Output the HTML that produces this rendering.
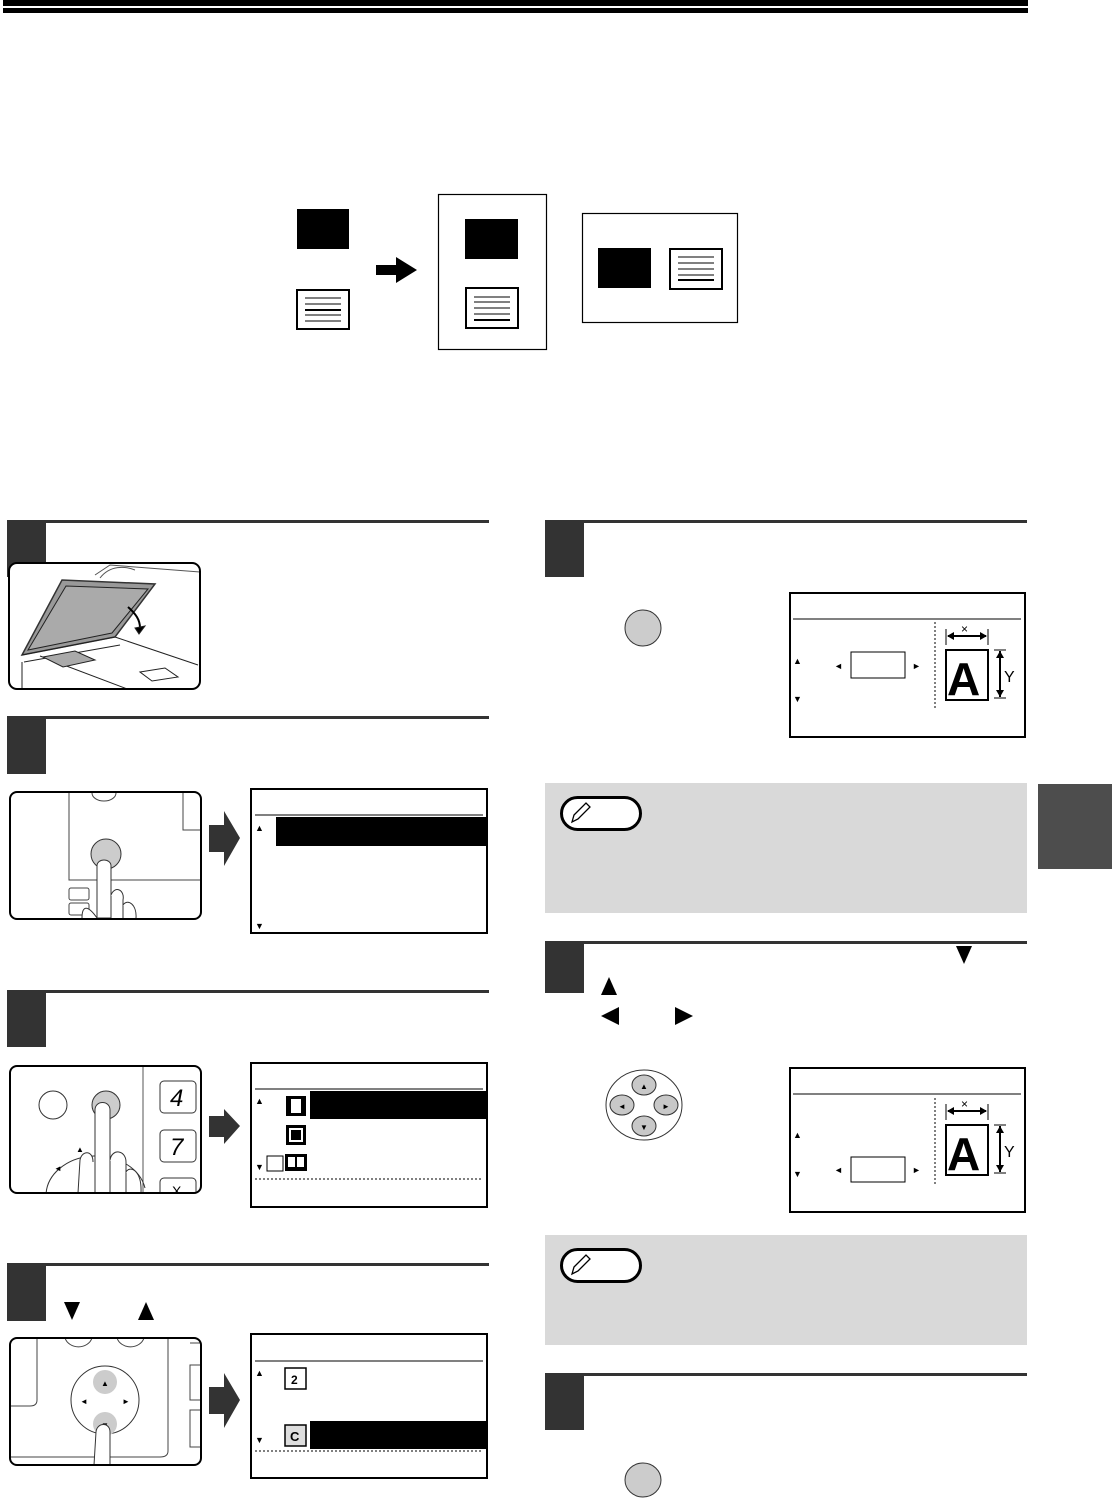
<!DOCTYPE html>
<html><head><meta charset="utf-8">
<style>
html,body{margin:0;padding:0;background:#fff;}
body{width:1112px;height:1499px;position:relative;overflow:hidden;font-family:"Liberation Sans",sans-serif;}
svg{position:absolute;left:0;top:0;}
</style></head><body>
<svg width="1112" height="1499" viewBox="0 0 1112 1499" xmlns="http://www.w3.org/2000/svg" font-family="Liberation Sans, sans-serif">
<defs>
<clipPath id="c1"><rect x="9" y="563" width="191" height="126" rx="8"/></clipPath>
<clipPath id="c2"><rect x="10" y="792" width="191" height="127" rx="7"/></clipPath>
<clipPath id="c3"><rect x="10" y="1066" width="191" height="127" rx="7"/></clipPath>
<clipPath id="c4"><rect x="10" y="1338" width="191" height="127" rx="7"/></clipPath>
</defs>
<!-- top rules -->
<rect x="3" y="0" width="1025" height="6" fill="#000"/>
<rect x="3" y="8" width="1025" height="5" fill="#000"/>

<!-- top diagram -->
<rect x="297" y="209" width="52" height="40" fill="#000"/>
<rect x="297" y="290" width="52" height="39" fill="#fff" stroke="#000" stroke-width="2"/>
<g stroke="#000"><line x1="305" y1="298" x2="341" y2="298"/><line x1="305" y1="304" x2="341" y2="304"/><line x1="305" y1="310" x2="341" y2="310" stroke-width="2"/><line x1="305" y1="315" x2="341" y2="315"/><line x1="305" y1="321" x2="341" y2="321"/></g>
<polygon points="376,265 396,265 396,257 417,270 396,283 396,275 376,275" fill="#000"/>
<rect x="438.5" y="194.5" width="108" height="155" fill="none" stroke="#000" stroke-width="1.2"/>
<rect x="465" y="219" width="53" height="40" fill="#000"/>
<rect x="466" y="288" width="52" height="40" fill="#fff" stroke="#000" stroke-width="2"/>
<g stroke="#000"><line x1="474" y1="297" x2="510" y2="297"/><line x1="474" y1="302" x2="510" y2="302"/><line x1="474" y1="308" x2="510" y2="308"/><line x1="474" y1="314" x2="510" y2="314"/><line x1="474" y1="320" x2="510" y2="320" stroke-width="2"/></g>
<rect x="582.5" y="213.5" width="155" height="109" fill="none" stroke="#000" stroke-width="1.2"/>
<rect x="598" y="248" width="53" height="40" fill="#000"/>
<rect x="670" y="249" width="52" height="40" fill="#fff" stroke="#000" stroke-width="2"/>
<g stroke="#000"><line x1="678" y1="257" x2="714" y2="257"/><line x1="678" y1="263" x2="714" y2="263"/><line x1="678" y1="269" x2="714" y2="269"/><line x1="678" y1="275" x2="714" y2="275"/><line x1="678" y1="280" x2="714" y2="280" stroke-width="2"/></g>

<!-- side tab -->
<rect x="1038" y="784" width="74" height="85" fill="#4d4d4d"/>

<!-- step headers -->
<g fill="#333">
<rect x="7" y="520" width="482" height="3"/><rect x="7" y="520" width="39" height="57"/>
<rect x="7" y="716" width="482" height="3"/><rect x="7" y="716" width="39" height="58"/>
<rect x="7" y="990" width="482" height="3"/><rect x="7" y="990" width="39" height="57"/>
<rect x="7" y="1263" width="482" height="3"/><rect x="7" y="1263" width="39" height="58"/>
<rect x="545" y="520" width="482" height="3"/><rect x="545" y="520" width="39" height="57"/>
<rect x="545" y="941" width="482" height="3"/><rect x="545" y="941" width="39" height="52"/>
<rect x="545" y="1373" width="482" height="3"/><rect x="545" y="1373" width="39" height="57"/>
</g>

<!-- step 1 image -->
<rect x="9" y="563" width="191" height="126" rx="8" fill="#fff"/>
<g clip-path="url(#c1)" stroke="#222" stroke-width="1" fill="none">
<polygon points="22,655 62,580 155,584 115,637" fill="#999" stroke="#333" stroke-width="1.5"/>
<polygon points="28,650 66,586 148,589 112,633" fill="#aaa"/>
<line x1="22" y1="655" x2="115" y2="637"/>
<line x1="115" y1="637" x2="198" y2="665"/>
<line x1="24" y1="662" x2="120" y2="645"/>
<line x1="40" y1="656" x2="130" y2="690"/>
<polygon points="43,657 75,651 95,660 63,667" fill="#aaa"/>
<polygon points="140,672 165,668 178,677 152,681"/>
<line x1="22" y1="662" x2="22" y2="690"/>
<path d="M95,575 L110,565 L200,572" stroke="#555" fill="#fff"/>
<path d="M100,578 C110,565 125,566 135,570" stroke="#555"/>
<path d="M128,607 C136,614 140,620 140,628" stroke="#000" stroke-width="2"/>
<polygon points="135,628 145,626 139,634" fill="#000"/>
</g>
<rect x="9" y="563" width="191" height="126" rx="8" fill="none" stroke="#000" stroke-width="2"/>

<!-- step 2 image -->
<rect x="10" y="792" width="191" height="127" rx="7" fill="#fff"/>
<g clip-path="url(#c2)">
<g stroke="#444" fill="none">
<path d="M69,793 V880 H201"/>
<path d="M92,793 A12,8 0 0 0 116,793"/>
<path d="M183,793 V830 H201"/>
<rect x="69" y="888" width="20" height="12" rx="2"/>
<rect x="69" y="903" width="20" height="12" rx="2"/>
</g>
<circle cx="106" cy="854" r="15" fill="#ccc" stroke="#333"/>
<path d="M97,918 V866 C97,858 111,858 111,866 V918 Z" fill="#fff" stroke="#333"/>
<path d="M111,895 C115,885 125,890 123,900 V918" fill="#fff" stroke="#333"/>
<path d="M123,905 C128,898 137,905 136,918" fill="#fff" stroke="#333"/>
<path d="M97,918 C88,905 82,905 82,918" fill="#fff" stroke="#333"/>
</g>
<rect x="10" y="792" width="191" height="127" rx="7" fill="none" stroke="#000" stroke-width="2"/>
<polygon points="209,825 224,825 224,811 240,838 224,866 224,852 209,852" fill="#333"/>
<!-- LCD 2 -->
<rect x="251" y="789" width="236" height="144" fill="#fff" stroke="#000" stroke-width="2"/>
<line x1="255" y1="815" x2="483" y2="815" stroke="#000"/>
<rect x="276" y="817" width="211" height="29" fill="#000"/>
<text x="255" y="831" font-size="9">▲</text><text x="255" y="929" font-size="9">▼</text>

<!-- step 3 image -->
<rect x="10" y="1066" width="191" height="127" rx="7" fill="#fff"/>
<g clip-path="url(#c3)">
<line x1="143" y1="1066" x2="143" y2="1193" stroke="#555"/>
<circle cx="53" cy="1105" r="14" fill="#fff" stroke="#333"/>
<circle cx="106" cy="1105" r="14" fill="#ccc" stroke="#333"/>
<g fill="#fff" stroke="#333"><rect x="160" y="1081" width="36" height="32" rx="4"/><rect x="160" y="1130" width="36" height="32" rx="4"/><rect x="160" y="1178" width="36" height="30" rx="4"/></g>
<text x="170" y="1106" font-size="24" font-style="italic">4</text>
<text x="170" y="1155" font-size="24" font-style="italic">7</text>
<text x="172" y="1196" font-size="14">X</text>
<path d="M46,1195 A50,40 0 0 1 145,1188" fill="none" stroke="#333"/>
<text x="76" y="1152" font-size="8">▲</text><text x="54" y="1171" font-size="8">◄</text>
<path d="M95,1193 V1110 C95,1100 110,1100 110,1110 V1193 Z" fill="#fff" stroke="#333"/>
<path d="M110,1160 C112,1148 126,1150 126,1162 V1193" fill="#fff" stroke="#333"/>
<path d="M126,1172 C130,1165 142,1170 141,1193" fill="#fff" stroke="#333"/>
<path d="M78,1193 L80,1160 C82,1150 93,1150 93,1162" fill="#fff" stroke="#333"/>
</g>
<rect x="10" y="1066" width="191" height="127" rx="7" fill="none" stroke="#000" stroke-width="2"/>
<polygon points="209,1116 224,1116 224,1109 240,1126 224,1144 224,1137 209,1137" fill="#333"/>
<!-- LCD 3 -->
<rect x="251" y="1063" width="236" height="144" fill="#fff" stroke="#000" stroke-width="2"/>
<line x1="255" y1="1089" x2="483" y2="1089" stroke="#000"/>
<rect x="310" y="1091" width="177" height="28" fill="#000"/>
<rect x="286" y="1096" width="20" height="20" fill="#000"/><rect x="291" y="1099" width="10" height="14" fill="#fff"/>
<rect x="286" y="1125" width="20" height="20" fill="#000"/><rect x="289" y="1128" width="14" height="14" fill="#fff"/><rect x="291" y="1130" width="10" height="10" fill="#000"/>
<rect x="267" y="1156" width="16" height="15" fill="#fff" stroke="#000"/>
<rect x="285" y="1154" width="22" height="17" fill="#000"/><rect x="288" y="1157" width="7" height="10" fill="#fff"/><rect x="297" y="1157" width="7" height="10" fill="#fff"/>
<line x1="255" y1="1179" x2="483" y2="1179" stroke="#000" stroke-dasharray="2,2"/>
<text x="255" y="1104" font-size="9">▲</text><text x="255" y="1170" font-size="9">▼</text>

<!-- step 4 -->
<polygon points="64,1302 80,1302 72,1320" fill="#000"/>
<polygon points="138,1320 154,1320 146,1302" fill="#000"/>
<rect x="10" y="1338" width="191" height="127" rx="7" fill="#fff"/>
<g clip-path="url(#c4)">
<g stroke="#444" fill="none">
<path d="M37,1338 V1400 C37,1404 35,1406 30,1406 H10"/>
<path d="M65,1338 A14,12 0 0 0 92,1338"/><path d="M117,1338 A14,12 0 0 0 144,1338"/>
<path d="M168,1338 V1451 C168,1455 165,1457 160,1457 H10"/>
<path d="M200,1365 H190 V1400 H200"/><path d="M200,1410 H190 V1447 H200"/>
<path d="M200,1343 H190"/>
</g>
<circle cx="105" cy="1400" r="34" fill="#fff" stroke="#333"/>
<circle cx="105" cy="1382" r="12" fill="#ccc"/><circle cx="105" cy="1424" r="12" fill="#ccc"/>
<text x="101" y="1386" font-size="8">▲</text><text x="101" y="1428" font-size="8">▼</text>
<text x="80" y="1404" font-size="8">◄</text><text x="122" y="1404" font-size="8">►</text>
<path d="M94,1465 L96,1432 C97,1422 110,1422 110,1432 V1465" fill="#fff" stroke="#333"/>
</g>
<rect x="10" y="1338" width="191" height="127" rx="7" fill="none" stroke="#000" stroke-width="2"/>
<polygon points="209,1387 224,1387 224,1373 240,1400 224,1428 224,1414 209,1414" fill="#333"/>
<!-- LCD 4 -->
<rect x="251" y="1334" width="236" height="144" fill="#fff" stroke="#000" stroke-width="2"/>
<line x1="255" y1="1361" x2="483" y2="1361" stroke="#000"/>
<rect x="285" y="1368" width="21" height="21" fill="#fff" stroke="#000" stroke-width="1.5"/>
<text x="291" y="1384" font-size="12" font-weight="bold">2</text>
<rect x="310" y="1421" width="177" height="28" fill="#000"/>
<rect x="285" y="1425" width="21" height="21" fill="#ddd" stroke="#000" stroke-width="1.5"/>
<text x="290" y="1441" font-size="13" font-weight="bold">C</text>
<line x1="255" y1="1451" x2="483" y2="1451" stroke="#000" stroke-dasharray="2,2"/>
<text x="255" y="1376" font-size="9">▲</text><text x="255" y="1443" font-size="9">▼</text>

<!-- step 5 -->
<circle cx="643" cy="628" r="18" fill="#ccc" stroke="#333"/>
<rect x="790" y="593" width="235" height="144" fill="#fff" stroke="#000" stroke-width="2"/>
<line x1="793" y1="619" x2="1021" y2="619" stroke="#000"/>
<line x1="935" y1="622" x2="935" y2="710" stroke="#000" stroke-dasharray="2,2"/>
<rect x="851" y="652" width="54" height="26" fill="#fff" stroke="#000"/>
<text x="834" y="669" font-size="9">◄</text><text x="912" y="669" font-size="9">►</text>
<text x="793" y="664" font-size="9">▲</text><text x="793" y="702" font-size="9">▼</text>
<g id="aicon">
<rect x="946" y="650" width="42" height="50" fill="#fff" stroke="#000" stroke-width="2"/>
<text x="947" y="695" font-size="46" font-weight="bold">A</text>
<line x1="948" y1="636" x2="986" y2="636" stroke="#000" stroke-width="2"/>
<polygon points="947,636 954,632 954,640" fill="#000"/><polygon points="987,636 980,632 980,640" fill="#000"/>
<line x1="946" y1="629" x2="946" y2="645" stroke="#000"/><line x1="988" y1="629" x2="988" y2="645" stroke="#000"/>
<text x="961" y="633" font-size="12">×</text>
<line x1="1000" y1="651" x2="1000" y2="697" stroke="#000" stroke-width="2"/>
<polygon points="1000,651 996,658 1004,658" fill="#000"/><polygon points="1000,697 996,690 1004,690" fill="#000"/>
<line x1="994" y1="650" x2="1006" y2="650" stroke="#000"/><line x1="994" y1="698" x2="1006" y2="698" stroke="#000"/>
<text x="1004" y="682" font-size="16">Y</text>
</g>
<!-- note 1 -->
<rect x="545" y="783" width="482" height="130" fill="#d9d9d9"/>
<rect x="561.5" y="797.5" width="79" height="32" rx="16" fill="#fff" stroke="#000" stroke-width="3"/>
<path d="M572,822 L574,815 L586,803 L590,807 L578,819 Z" fill="#fff" stroke="#000" stroke-width="1.3"/>

<!-- step 6 -->
<polygon points="956,946 972,946 964,964" fill="#000"/>
<polygon points="601,995 617,995 609,977" fill="#000"/>
<polygon points="619,1007 619,1025 601,1016" fill="#000"/>
<polygon points="675,1007 675,1025 693,1016" fill="#000"/>
<ellipse cx="644" cy="1105" rx="38" ry="35" fill="#fff" stroke="#333"/>
<g fill="#c8c8c8" stroke="#333"><ellipse cx="644" cy="1085" rx="12" ry="10"/><ellipse cx="644" cy="1126" rx="12" ry="10"/><ellipse cx="622" cy="1105" rx="12" ry="10"/><ellipse cx="666" cy="1105" rx="12" ry="10"/></g>
<text x="640" y="1089" font-size="8">▲</text><text x="640" y="1130" font-size="8">▼</text>
<text x="618" y="1109" font-size="8">◄</text><text x="662" y="1109" font-size="8">►</text>
<rect x="790" y="1068" width="235" height="144" fill="#fff" stroke="#000" stroke-width="2"/>
<line x1="793" y1="1094" x2="1021" y2="1094" stroke="#000"/>
<line x1="935" y1="1098" x2="935" y2="1185" stroke="#000" stroke-dasharray="2,2"/>
<rect x="851" y="1157" width="54" height="25" fill="#fff" stroke="#000"/>
<text x="834" y="1173" font-size="9">◄</text><text x="912" y="1173" font-size="9">►</text>
<text x="793" y="1138" font-size="9">▲</text><text x="793" y="1177" font-size="9">▼</text>
<use href="#aicon" transform="translate(0,475)"/>
<!-- note 2 -->
<rect x="545" y="1235" width="482" height="110" fill="#d9d9d9"/>
<rect x="561.5" y="1249.5" width="79" height="32" rx="16" fill="#fff" stroke="#000" stroke-width="3"/>
<path d="M572,1274 L574,1267 L586,1255 L590,1259 L578,1271 Z" fill="#fff" stroke="#000" stroke-width="1.3"/>

<!-- step 7 -->
<ellipse cx="643" cy="1480" rx="18" ry="17" fill="#ccc" stroke="#333"/>
</svg>
</body></html>
